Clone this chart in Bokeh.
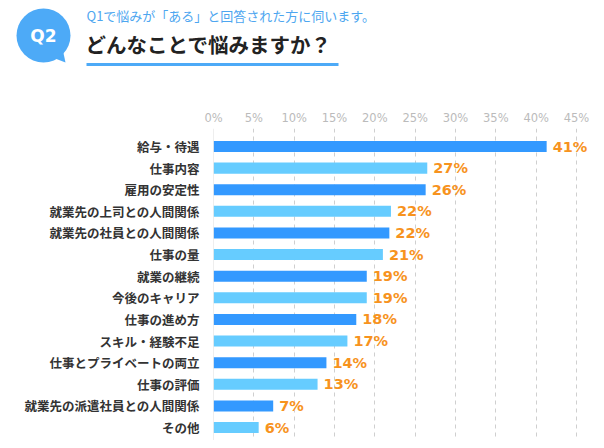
from bokeh.plotting import figure
from bokeh.layouts import column
from bokeh.models import Range1d, FixedTicker, LinearAxis, PrintfTickFormatter, Span, ColumnDataSource, LabelSet
from bokeh.core.properties import value
from bokeh.embed import file_html
from bokeh.resources import INLINE

# ---- data ----
categories = ["給与・待遇", "仕事内容", "雇用の安定性", "就業先の上司との人間関係",
              "就業先の社員との人間関係", "仕事の量", "就業の継続", "今後のキャリア",
              "仕事の進め方", "スキル・経験不足", "仕事とプライベートの両立", "仕事の評価",
              "就業先の派遣社員との人間関係", "その他"]
values = [41.3, 26.5, 26.3, 22.0, 21.8, 21.0, 19.0, 19.0, 17.7, 16.6, 14.0, 12.9, 7.4, 5.6]
value_labels = ["41%", "27%", "26%", "22%", "22%", "21%", "19%", "19%", "18%", "17%",
                "14%", "13%", "7%", "6%"]
x_ticks = [0, 5, 10, 15, 20, 25, 30, 35, 40, 45]
subtitle = "Q1で悩みが「ある」と回答された方に伺います。"
title = "どんなことで悩みますか？"
badge = "Q2"

JP = "Noto Sans CJK JP"
LAT = "DejaVu Sans"
BLUE = "#4DAAF7"
DARK = "#3399FF"
LIGHT = "#66CCFF"
ORANGE = "#F7931E"

W = 596
HH = 100

# ---- header ----
h = figure(width=W, height=HH, x_range=Range1d(0, W), y_range=Range1d(HH, 0),
           output_backend="svg", toolbar_location=None, min_border=0, frame_align=False)
h.axis.visible = False
h.grid.visible = False
h.outline_line_color = None
h.patch([52, 65, 62], [57, 62, 48], fill_color=BLUE, line_color=None)
h.circle(x=[43], y=[35], radius=27, fill_color=BLUE, line_color=None)
h.text(x=[43], y=[35], text=[badge], text_font=value(LAT), text_font_style="bold",
       text_font_size="17px", text_color="white", text_align="center", text_baseline="middle")
h.text(x=[86], y=[15], text=[subtitle], text_font=value(JP), text_font_size="13px",
       text_color="#4DA6F0", text_align="left", text_baseline="middle")
h.text(x=[85], y=[43], text=[title], text_font=value(JP), text_font_style="bold",
       text_font_size="20.5px", text_color="#222222", text_align="left", text_baseline="middle")
h.segment(x0=[86], y0=[64], x1=[338], y1=[64], line_color=BLUE, line_width=3)

# ---- chart ----
LEFT = 213
px_per = 363 / 45.0
x_end = (W - LEFT) / px_per
n = len(categories)
p = figure(width=W, height=440 - HH, x_range=Range1d(0, x_end),
           y_range=Range1d(n - 1 + 0.6, -0.833),
           output_backend="svg", toolbar_location=None, frame_align=False,
           min_border_left=LEFT, min_border_right=0, min_border_top=28, min_border_bottom=0,
           x_axis_location=None)
p.outline_line_color = None
p.ygrid.visible = False

colors = [DARK if i % 2 == 0 else LIGHT for i in range(n)]
src = ColumnDataSource(dict(y=list(range(n)), v=values, c=colors, lab=value_labels))
p.hbar(y="y", left=0, right="v", height=0.51, fill_color="c", line_color=None, source=src)

xa = LinearAxis(ticker=FixedTicker(ticks=x_ticks), formatter=PrintfTickFormatter(format="%d%%"))
xa.axis_line_color = None
xa.major_tick_line_color = None
xa.minor_tick_line_color = None
xa.major_tick_out = 0
xa.major_tick_in = 0
xa.major_label_standoff = 4
xa.major_label_text_font = LAT
xa.major_label_text_font_size = "11.5px"
xa.major_label_text_color = "#BBBBBB"
p.add_layout(xa, "above")

p.xgrid.ticker = FixedTicker(ticks=x_ticks[1:])
p.xgrid.grid_line_color = "#CFCFCF"
p.xgrid.grid_line_dash = "4 4"
p.xgrid.grid_line_width = 1
p.add_layout(Span(location=0, dimension="height", line_color="#DDDDDD", line_width=1))

ya = p.yaxis[0]
ya.ticker = FixedTicker(ticks=list(range(n)))
ya.major_label_overrides = {i: c for i, c in enumerate(categories)}
ya.axis_line_color = None
ya.major_tick_line_color = None
ya.minor_tick_line_color = None
ya.major_tick_out = 0
ya.major_tick_in = 0
ya.major_label_standoff = 14
ya.major_label_text_font = JP
ya.major_label_text_font_style = "bold"
ya.major_label_text_font_size = "12.5px"
ya.major_label_text_color = "#333333"

labels = LabelSet(x="v", y="y", text="lab", source=src, x_offset=6,
                  text_font=value(LAT), text_font_style="bold", text_font_size="14.5px",
                  text_color=ORANGE, text_baseline="middle", text_align="left")
p.add_layout(labels)

layout = column(h, p, spacing=0)
open("out.html", "w").write(file_html(layout, INLINE))
